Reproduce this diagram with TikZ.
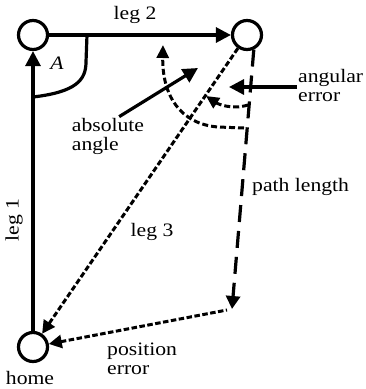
\documentclass[tikz,border=0pt]{standalone}
\usepackage{fontspec}
\setmainfont{Liberation Serif}[FakeStretch=1.14]
\usetikzlibrary{arrows.meta}

\begin{document}
\begin{tikzpicture}[
  x=1pt, y=-1pt,
  stopc/.style={circle, draw, line width=3.2pt, minimum size=29pt, inner sep=0pt},
  lbl/.style={font=\fontsize{19}{19}\selectfont, align=left, inner sep=1pt},
  leg/.style={line width=3.2pt, -{Triangle[length=15pt,width=15pt]}},
  legdot/.style={line width=3pt, dash pattern=on 5.5pt off 2.5pt},
  tipdot/.style={-{Triangle[length=13pt,width=13pt]}},
  pathlen/.style={line width=3.2pt, dash pattern=on 17pt off 9pt, -{Triangle[length=13pt,width=14pt]}},
  arcdash/.style={line width=3pt, dash pattern=on 6pt off 3pt, -{Triangle[length=13pt,width=12pt]}},
  note/.style={line width=3.2pt, -{Triangle[length=15pt,width=15pt]}},
]
\useasboundingbox (0,0) rectangle (366,389);

%% Stopping points
\node[stopc] (home)  at (33,347) {};
\node[stopc] (turn1) at (33,35)  {};
\node[stopc] (turn2) at (247,35) {};
\coordinate (finish) at (232,309);
\coordinate (absTip) at (198,68);
\coordinate (angTip) at (229,87);

%% Outbound legs
\draw[leg] (home) -- (turn1);
\draw[leg] (turn1) -- (turn2);
\draw[line width=3.2pt] (33,97) .. controls (76,92) and (86,80) .. (86,62) -- (87,35);

%% Homing and errors
\draw[legdot, tipdot] (turn2) -- (home);
\draw[pathlen] (turn2.-65) -- (finish);
\draw[legdot, tipdot, {Triangle[length=13pt,width=13pt]}-] (home) -- ([xshift=-5pt,yshift=-1pt]finish);

%% Angles
\draw[arcdash] (244,128) -- (218,127) .. controls (180,124) and (162,95) .. (163,45);
\draw[arcdash] (248,105) .. controls (232,110) and (218,104) .. (206,96);

%% Labels
\node[lbl] (leg2lbl) at (135,15) {leg 2};
\node[lbl, font=\fontsize{19}{19}\selectfont\itshape] (alpha) at (57,63) {A};
\node[lbl, rotate=90] (leg1lbl) at (14,220) {leg 1};
\node[lbl] (leg3lbl) at (152,232) {leg 3};
\node[lbl, anchor=west] (pathlbl) at (251,187) {path length};
\node[lbl] (abslbl) at (108,136) {absolute\\angle};
\node[lbl, anchor=west] (errlbl) at (297,85) {angular\\error};
\node[lbl, anchor=west] (poslbl) at (106,359) {position\\error};
\node[lbl] (homelbl) at (30,378) {home};

%% Pointers
\draw[note] (abslbl.60) -- (absTip);
\draw[note] (errlbl.west |- angTip) -- (angTip);
\end{tikzpicture}
\end{document}
